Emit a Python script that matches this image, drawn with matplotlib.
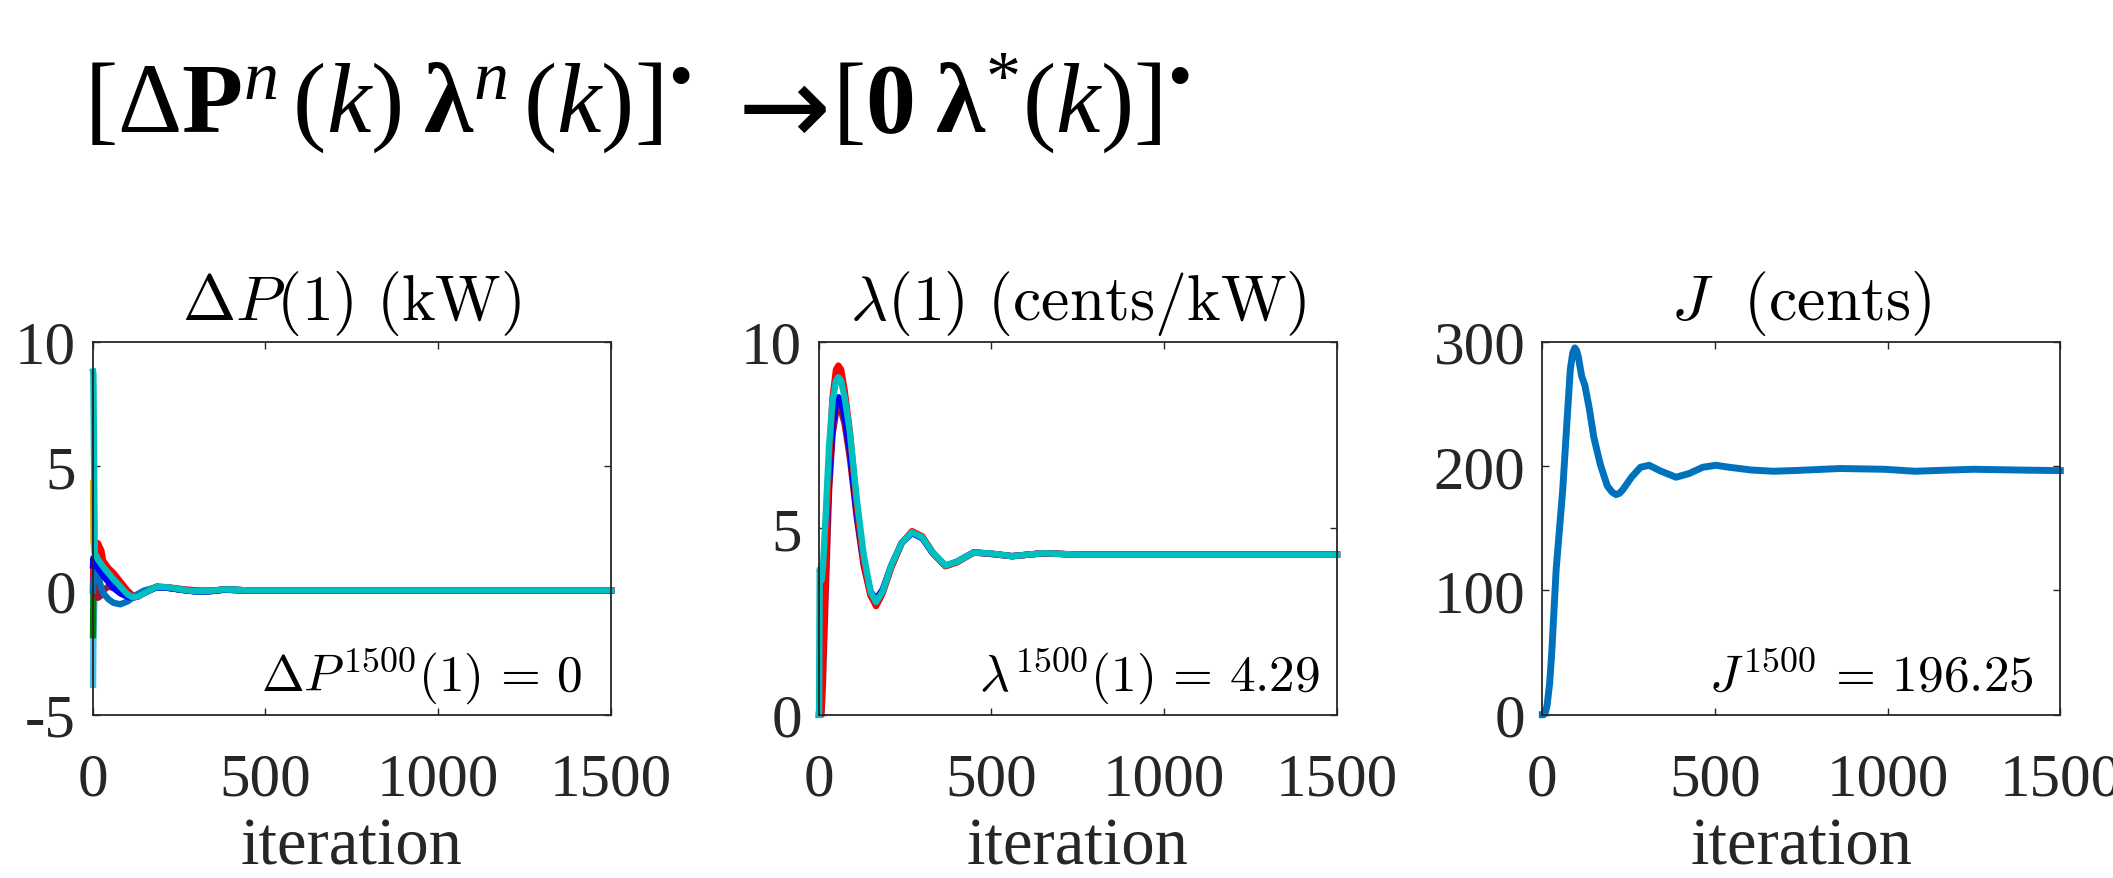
import matplotlib
matplotlib.use("Agg")
import matplotlib.pyplot as plt

plt.rcParams['font.family'] = ['Liberation Serif', 'DejaVu Serif']
plt.rcParams['mathtext.fontset'] = 'custom'
plt.rcParams['mathtext.rm'] = 'Liberation Serif'
plt.rcParams['mathtext.it'] = 'Liberation Serif:italic'
plt.rcParams['mathtext.bf'] = 'Liberation Serif:bold'
plt.rcParams['axes.unicode_minus'] = False

# ---------------- data ----------------
# Panel 1: Delta P(1) (kW)
it_dp = [1, 2, 6, 15, 25, 30, 45, 60, 80, 100, 115, 130, 150, 185, 220, 260, 300, 340, 380, 450, 550, 1500]
dp_lightblue = [-3.8, -1.9, 0.3, 0.9, 0.8, 0.7, 0.5, 0.3, 0.05, -0.15, -0.25, -0.2, -0.05, 0.14, 0.1, 0.02, -0.04, -0.02, 0.03, 0.0, 0.0, 0.0]
dp_green = [-1.8, 0.0, 0.5, 0.6, 0.6, 0.55, 0.4, 0.2, 0.0, -0.18, -0.26, -0.2, -0.05, 0.14, 0.1, 0.02, -0.04, -0.02, 0.03, 0.0, 0.0, 0.0]
dp_yellow = [4.3, 2.0, 1.5, 1.2, 1.0, 0.9, 0.65, 0.4, 0.1, -0.15, -0.27, -0.22, -0.08, 0.15, 0.11, 0.02, -0.04, -0.02, 0.03, 0.0, 0.0, 0.0]
dp_darkred = [0.0, 0.5, 0.2, -0.3, -0.2, 0.0, 0.15, 0.1, -0.05, -0.2, -0.28, -0.22, -0.08, 0.14, 0.1, 0.02, -0.04, -0.02, 0.03, 0.0, 0.0, 0.0]
dp_red = [0.2, 1.2, 0.9, 1.9, 1.6, 1.2, 0.9, 0.7, 0.35, 0.0, -0.2, -0.25, -0.1, 0.15, 0.12, 0.05, 0.0, -0.02, 0.03, 0.0, 0.0, 0.0]
dp_mblue = [0.0, 0.3, 1.0, 0.6, 0.1, -0.1, -0.35, -0.5, -0.56, -0.45, -0.3, -0.15, 0.0, 0.12, 0.1, 0.02, -0.03, -0.02, 0.03, 0.0, 0.0, 0.0]
dp_blue = [1.0, 1.3, 1.2, 0.9, 0.7, 0.6, 0.35, 0.1, -0.12, -0.25, -0.3, -0.25, -0.1, 0.13, 0.1, 0.02, -0.05, -0.04, 0.03, 0.0, 0.0, 0.0]
dp_cyan = [8.8, 8.7, 1.5, 1.25, 1.05, 0.95, 0.7, 0.45, 0.15, -0.15, -0.28, -0.25, -0.1, 0.15, 0.12, 0.03, -0.04, -0.02, 0.04, 0.0, 0.0, 0.0]

# Panel 2: lambda(1) (cents/kW)
it_lam = [1, 3, 8, 12, 20, 30, 40, 50, 57, 65, 75, 90, 110, 130, 150, 166, 185, 210, 240, 270, 300, 330, 367, 400, 449, 500, 560, 650, 750, 1500]
lam_darkred = [0.0, 0.0, 0.0, 0.8, 3.2, 6.0, 7.5, 8.1, 8.24, 8.15, 7.8, 6.9, 5.3, 4.0, 3.2, 3.0, 3.3, 3.95, 4.6, 4.88, 4.74, 4.34, 3.99, 4.1, 4.35, 4.31, 4.25, 4.33, 4.29, 4.29]
lam_blue = [0.0, 0.5, 1.5, 2.5, 4.2, 6.3, 7.7, 8.35, 8.51, 8.4, 8.0, 7.1, 5.4, 4.1, 3.3, 3.1, 3.35, 4.0, 4.6, 4.87, 4.73, 4.33, 3.99, 4.1, 4.35, 4.31, 4.25, 4.33, 4.29, 4.29]
lam_red = [0.0, 0.0, 0.2, 1.5, 4.0, 6.8, 8.5, 9.25, 9.36, 9.25, 8.7, 7.6, 5.6, 4.1, 3.2, 2.91, 3.25, 3.95, 4.6, 4.92, 4.78, 4.35, 3.98, 4.08, 4.35, 4.32, 4.25, 4.33, 4.29, 4.29]
lam_cyan = [0.0, 3.9, 3.6, 3.9, 5.3, 7.2, 8.4, 8.95, 9.05, 8.95, 8.5, 7.6, 5.8, 4.3, 3.3, 3.02, 3.3, 4.0, 4.6, 4.89, 4.75, 4.35, 4.0, 4.1, 4.35, 4.32, 4.25, 4.33, 4.29, 4.29]

# Panel 3: J (cents)
it_J = [1, 5, 10, 15, 22, 28, 41, 60, 73, 82, 89, 95, 100, 105, 115, 124, 137, 150, 169, 189, 203, 214, 224, 234, 259, 285, 310, 343, 388, 426, 465, 503, 542, 606, 670, 734, 862, 991, 1080, 1183, 1248, 1376, 1500]
J_vals = [0, 0, 2, 8, 25, 49, 117, 181, 239, 278, 291, 295, 293, 288, 272, 265, 246, 223, 201, 184, 179, 177, 178, 181, 191, 199, 200.6, 196, 191, 194, 199, 200.6, 199, 196.8, 195.8, 196.4, 198, 197.4, 195.8, 196.8, 197.4, 196.8, 196.3]

x_ticks = [0, 500, 1000, 1500]
dp_yticks = [-5, 0, 5, 10]
lam_yticks = [0, 5, 10]
J_yticks = [0, 100, 200, 300]

C_CYAN = (0.0, 0.75, 0.75)
C_RED = (1.0, 0.0, 0.0)
C_DARKRED = (0.64, 0.08, 0.18)
C_BLUE = (0.0, 0.0, 1.0)
C_MBLUE = (0.0, 0.447, 0.741)
C_GREEN = (0.0, 0.5, 0.0)
C_LBLUE = (0.30, 0.75, 0.93)
C_YELLOW = (0.93, 0.69, 0.13)
C_AX = (0.15, 0.15, 0.15)

# ---------------- figure ----------------
W, H = 2113, 879
fig = plt.figure(figsize=(W / 100, H / 100), dpi=100)

ax_w = 518.3 / W
ax_h = 373.0 / H
ax_b = 1 - 715.7 / H
lefts = [92.7 / W, 818.7 / W, 1542.0 / W]
axes = [fig.add_axes([l, ax_b, ax_w, ax_h]) for l in lefts]

TICK_FS = 44
TITLE_FS = 46
NOTE_FS = 37
LW = 4.6


def style(ax, yticks, ylim):
    ax.set_xlim(0, 1500)
    ax.set_ylim(*ylim)
    ax.set_xticks(x_ticks)
    ax.set_yticks(yticks)
    ax.tick_params(direction='in', top=True, right=True, length=5, width=1.0,
                   color=C_AX, labelsize=TICK_FS, labelcolor=C_AX)
    ax.tick_params(axis='x', pad=27)
    ax.tick_params(axis='y', pad=12)
    for s in ax.spines.values():
        s.set_color(C_AX)
        s.set_linewidth(1.3)
    ax.set_xlabel('iteration', fontsize=48, color=C_AX, labelpad=6)


# panel 1
ax = axes[0]
for y, c in [(dp_lightblue, C_LBLUE), (dp_green, C_GREEN), (dp_yellow, C_YELLOW),
             (dp_darkred, C_DARKRED), (dp_red, C_RED), (dp_mblue, C_MBLUE),
             (dp_blue, C_BLUE), (dp_cyan, C_CYAN)]:
    ax.plot(it_dp, y, color=c, lw=LW, clip_on=False, solid_joinstyle='round')
style(ax, dp_yticks, (-5, 10))
ax.set_title(r'$\Delta P(1)\ (\mathrm{kW})$', fontsize=TITLE_FS, math_fontfamily='cm', pad=16)
ax.text(0.945, 0.065, r'$\Delta P^{1500}(1)\,=\,0$', transform=ax.transAxes, ha='right',
        va='baseline', fontsize=NOTE_FS, math_fontfamily='cm')

# panel 2
ax = axes[1]
for y, c in [(lam_darkred, C_DARKRED), (lam_blue, C_BLUE), (lam_red, C_RED), (lam_cyan, C_CYAN)]:
    ax.plot(it_lam, y, color=c, lw=LW, clip_on=False, solid_joinstyle='round')
style(ax, lam_yticks, (0, 10))
ax.set_title(r'$\lambda(1)\ (\mathrm{cents/kW})$', fontsize=TITLE_FS, math_fontfamily='cm', pad=16)
ax.text(0.968, 0.065, r'$\lambda^{1500}(1)\,=\,4.29$', transform=ax.transAxes, ha='right',
        va='baseline', fontsize=NOTE_FS, math_fontfamily='cm')

# panel 3
ax = axes[2]
ax.plot(it_J, J_vals, color=C_MBLUE, lw=5.0, clip_on=False, solid_joinstyle='round')
style(ax, J_yticks, (0, 300))
ax.set_title(r'$J\ \ (\mathrm{cents})$', fontsize=TITLE_FS, math_fontfamily='cm', pad=16)
ax.text(0.949, 0.065, r'$J^{1500}\,=\,196.25$', transform=ax.transAxes, ha='right',
        va='baseline', fontsize=NOTE_FS, math_fontfamily='cm')

# header formula (left part, arrow, right part)
base_y = 1 - 132 / H
fig.text(84 / W, base_y,
         r'$[\Delta\mathbf{P}^{n}\,(k)\;\mathbf{\lambda}^{n}\,(k)]^{•}$',
         fontsize=72, ha='left', va='baseline')
fig.text(738 / W, 1 - 144 / H, '\u2192', fontsize=80, ha='left', va='baseline',
         family='DejaVu Sans')
fig.text(832 / W, base_y,
         r'$[\mathbf{0}\;\mathbf{\lambda}^{*}(k)]^{•}$',
         fontsize=72, ha='left', va='baseline')

fig.savefig('out.png', dpi=100, facecolor='white')
